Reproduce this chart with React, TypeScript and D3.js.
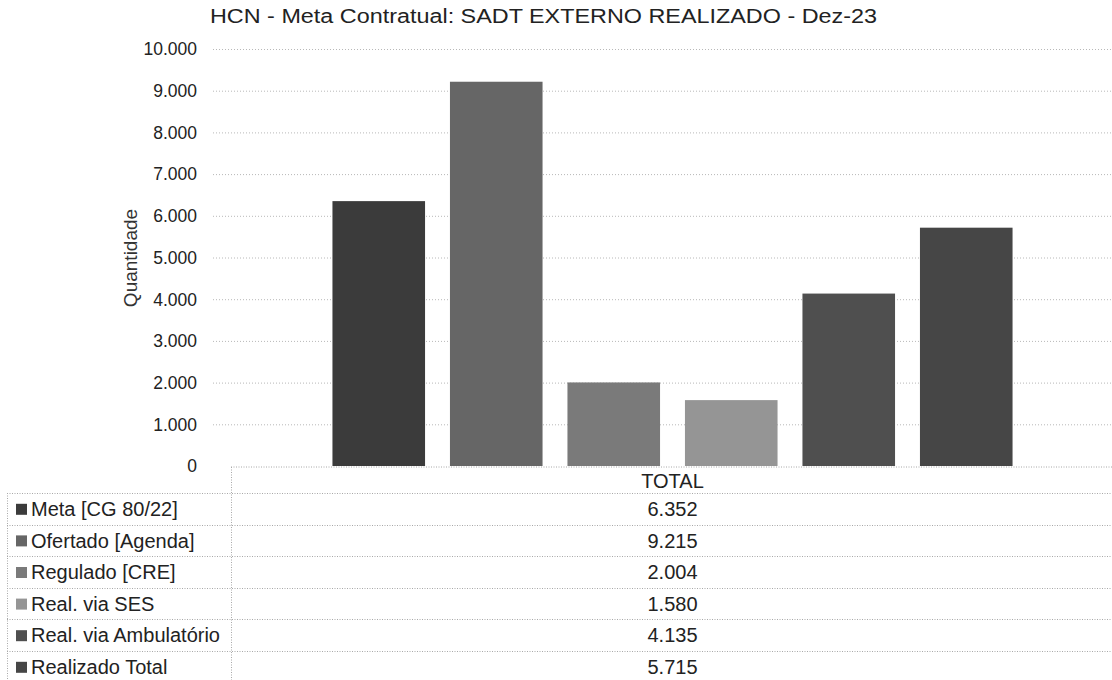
import React, { useEffect, useRef } from "react";
import * as d3 from "d3";

// values (Dez-23)
const category = "TOTAL";
const seriesNames = [
  "Meta [CG 80/22]",
  "Ofertado [Agenda]",
  "Regulado [CRE]",
  "Real. via SES",
  "Real. via Ambulatório",
  "Realizado Total",
];
const seriesValues = [6352, 9215, 2004, 1580, 4135, 5715];
const seriesColors = ["#3b3b3b", "#666666", "#7a7a7a", "#959595", "#4f4f4f", "#464646"];
const yTicks = [0, 1000, 2000, 3000, 4000, 5000, 6000, 7000, 8000, 9000, 10000];

const W = 1112;
const H = 680;
const font = "'Liberation Sans', Arial, sans-serif";

const fmt = (v: number) => d3.format(",")(v).replace(/,/g, ".");

export default function App() {
  const ref = useRef<SVGSVGElement>(null);

  useEffect(() => {
    const svg = d3.select(ref.current);
    svg.selectAll("*").remove();

    const plotLeft = 213;
    const plotRight = 1130;
    const y = d3.scaleLinear().domain([0, 10000]).range([466, 49]);
    const x = d3
      .scaleBand<string>()
      .domain(seriesNames)
      .range([320, 1025])
      .paddingInner(0.212)
      .paddingOuter(0.106);
    const catX = d3.scaleBand<string>().domain([category]).range([320, 1025]);
    const cx = (catX(category) as number) + catX.bandwidth() / 2;

    // title
    svg
      .append("text")
      .attr("x", 210)
      .attr("y", 23)
      .attr("font-family", font)
      .attr("font-size", 20)
      .attr("textLength", 667)
      .attr("lengthAdjust", "spacingAndGlyphs")
      .attr("fill", "#222")
      .text("HCN - Meta Contratual: SADT EXTERNO REALIZADO - Dez-23");

    // grid
    const grid = svg.append("g");
    grid
      .selectAll("line")
      .data(yTicks.filter((t) => t > 0))
      .enter()
      .append("line")
      .attr("x1", plotLeft)
      .attr("x2", plotRight)
      .attr("y1", (d) => y(d) + 0.5)
      .attr("y2", (d) => y(d) + 0.5)
      .attr("stroke", "#b8b8b8")
      .attr("stroke-dasharray", "1,2");

    // y tick labels
    svg
      .append("g")
      .selectAll("text")
      .data(yTicks)
      .enter()
      .append("text")
      .attr("x", 197)
      .attr("y", (d) => y(d))
      .attr("dy", "0.36em")
      .attr("text-anchor", "end")
      .attr("font-family", font)
      .attr("font-size", 17.5)
      .attr("fill", "#222")
      .text((d) => fmt(d));

    // y axis title
    svg
      .append("text")
      .attr("transform", "translate(137,258) rotate(-90)")
      .attr("text-anchor", "middle")
      .attr("font-family", font)
      .attr("font-size", 19)
      .attr("fill", "#333")
      .text("Quantidade");

    // bars
    svg
      .append("g")
      .selectAll("rect")
      .data(seriesValues)
      .enter()
      .append("rect")
      .attr("x", (d, i) => x(seriesNames[i]) as number)
      .attr("width", x.bandwidth())
      .attr("y", (d) => y(d))
      .attr("height", (d) => y(0) - y(d))
      .attr("fill", (d, i) => seriesColors[i]);

    // data table
    const table = svg.append("g");
    const headTop = y(0) + 1;
    const rowTop = 493;
    const rowH = 31.6;
    const colX = 231;
    const leftX = 7;
    const lineStyle = (sel: any) =>
      sel.attr("stroke", "#a8a8a8").attr("stroke-dasharray", "1,1.5").attr("fill", "none");

    table.append("line").attr("x1", colX).attr("x2", plotRight).attr("y1", headTop).attr("y2", headTop).call(lineStyle);
    table.append("line").attr("x1", colX + 0.5).attr("x2", colX + 0.5).attr("y1", headTop).attr("y2", H).call(lineStyle);
    table.append("line").attr("x1", leftX + 0.5).attr("x2", leftX + 0.5).attr("y1", rowTop).attr("y2", H).call(lineStyle);
    table
      .selectAll(".rowline")
      .data(d3.range(seriesNames.length))
      .enter()
      .append("line")
      .attr("x1", leftX)
      .attr("x2", plotRight)
      .attr("y1", (i) => Math.round(rowTop + i * rowH) + 0.5)
      .attr("y2", (i) => Math.round(rowTop + i * rowH) + 0.5)
      .call(lineStyle);

    table
      .append("text")
      .attr("x", cx)
      .attr("y", (headTop + rowTop) / 2 + 1)
      .attr("dy", "0.36em")
      .attr("text-anchor", "middle")
      .attr("font-family", font)
      .attr("font-size", 20)
      .attr("fill", "#222")
      .text(category);

    const rows = table
      .selectAll(".row")
      .data(seriesNames)
      .enter()
      .append("g")
      .attr("transform", (d, i) => `translate(0,${rowTop + i * rowH + rowH / 2})`);

    rows
      .append("rect")
      .attr("x", 16)
      .attr("y", -5)
      .attr("width", 11)
      .attr("height", 11)
      .attr("fill", (d, i) => seriesColors[i]);

    rows
      .append("text")
      .attr("x", 31)
      .attr("dy", "0.36em")
      .attr("font-family", font)
      .attr("font-size", 20)
      .attr("fill", "#222")
      .text((d) => d);

    rows
      .append("text")
      .attr("x", cx)
      .attr("dy", "0.36em")
      .attr("text-anchor", "middle")
      .attr("font-family", font)
      .attr("font-size", 20)
      .attr("fill", "#222")
      .text((d, i) => fmt(seriesValues[i]));
  }, []);

  return (
    <svg
      ref={ref}
      width={W}
      height={H}
      style={{ position: "absolute", left: 0, top: 0, background: "#fff" }}
    />
  );
}
